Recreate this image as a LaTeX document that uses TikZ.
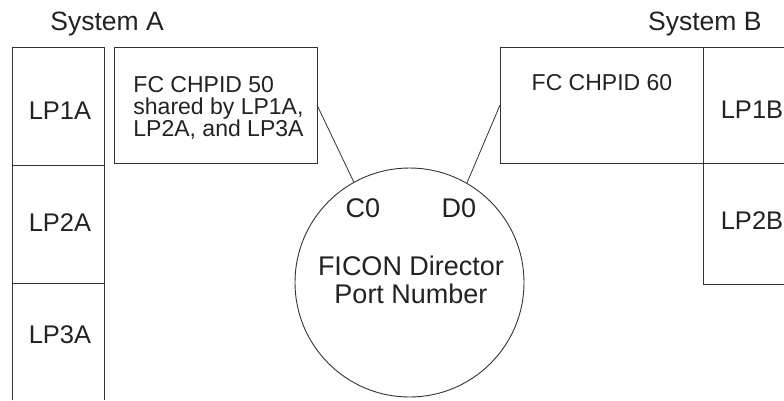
\documentclass[tikz,border=0pt]{standalone}
\usepackage{fontspec}
\setmainfont{Liberation Sans}
\definecolor{ink}{HTML}{222222}
\definecolor{ln}{HTML}{333333}
\begin{document}
\begin{tikzpicture}[x=1pt,y=-1pt,line width=0.9pt,
  every node/.style={text=ink},
  sys/.style={font=\fontsize{26.5}{30}\selectfont, inner sep=0pt},
  lbl/.style={font=\fontsize{25.5}{30}\selectfont, inner sep=0pt},
  small/.style={font=\fontsize{23}{22}\selectfont, inner sep=0pt},
  big/.style={font=\fontsize{27}{28}\selectfont, inner sep=0pt},
  boxnode/.style={draw=ln, rectangle, inner sep=0pt, minimum width=#1},
  wire/.style={draw=ln, line width=0.8pt}]
\useasboundingbox (0,0) rectangle (784,400);
% System labels
\node[sys, anchor=base west] (sysA) at (50,30) {System A};
\node[sys, anchor=base east] (sysB) at (762,30) {System B};
% Left column (open bottom)
\draw[ln] (12,400) -- (12,47) -- (104,47) -- (104,400);
\draw[ln] (12,165) -- (104,165);
\draw[ln] (12,283) -- (104,283);
\node[lbl] (lp1a) at (60,111) {LP1A};
\node[lbl] (lp2a) at (60,223) {LP2A};
\node[lbl] (lp3a) at (60,335) {LP3A};
% CHPID 50 box
\node[boxnode=203pt, minimum height=116pt] (b50) at (215.5,105.5) {};
\node[small, align=left, anchor=base west] (t50) at (133,136.7) {FC CHPID 50\\shared by LP1A,\\LP2A, and LP3A};
% CHPID 60 box
\node[boxnode=203pt, minimum height=116pt] (b60) at (601.5,105.5) {};
\node[small, anchor=base] (t60) at (602,90) {FC CHPID 60};
% Right column (open right side)
\draw[ln] (784,47) -- (703,47) -- (703,284) -- (784,284);
\draw[ln] (703,163.5) -- (784,163.5);
\node[lbl] (lp1b) at (752,110) {LP1B};
\node[lbl] (lp2b) at (752,221) {LP2B};
% Director circle
\node[draw=ln, circle, minimum size=229pt, inner sep=0pt] (dir) at (409.5,282.5) {};
\node[big, anchor=base] (c0) at (363,217) {C0};
\node[big, anchor=base] (d0) at (459,217) {D0};
\node[big, anchor=base] (ficon) at (411,275) {FICON Director};
\node[big, anchor=base] (port) at (411,303) {Port Number};
% Connectors
\coordinate (p50) at (317,105);
\coordinate (p60) at (500,105);
\draw[wire] (p50) -- (dir.119.5);
\draw[wire] (p60) -- (dir.60.5);
\end{tikzpicture}
\end{document}
